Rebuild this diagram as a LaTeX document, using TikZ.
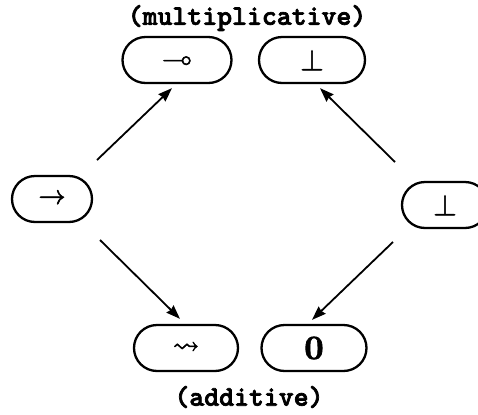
\documentclass[tikz,border=0pt]{standalone}
\usepackage{amssymb}
\usepackage{graphicx}
\usetikzlibrary{shapes.misc,arrows.meta}
% heavier type: fill and stroke the glyph outlines
\newcommand{\heavy}[2][0.35]{\special{pdf:literal direct 2 Tr #1 w}#2\special{pdf:literal direct 0 Tr}}
% a connective symbol, enlarged and slightly heavier
\newcommand{\csym}[2][1.35]{\heavy[0.2]{\scalebox{#1}{$#2$}}}
\begin{document}
\begin{tikzpicture}[x=0.5pt,y=-0.5pt,
  conn/.style={rounded rectangle,draw,line width=1.15pt,minimum height=23pt,inner sep=0pt},
  lbl/.style={font=\fontsize{14.2}{16}\selectfont\ttfamily\bfseries,inner sep=0pt},
  arr/.style={line width=0.9pt,-{Stealth[length=7pt,width=5pt,inset=0.6pt]}}]
  \useasboundingbox (0,0) rectangle (478,414);
  % multiplicative connectives
  \node[conn,minimum width=54.5pt] (mimp) at (177,60) {\csym{\multimap}};
  \node[conn,minimum width=53pt] (mbot) at (312,60) {\csym[1.5]{\bot}};
  % additive connectives
  \node[conn,minimum width=52pt] (aimp) at (186,348) {\csym[1.3]{\leadsto}};
  \node[conn,minimum width=52.5pt] (azero) at (314,348) {\csym[1.7]{\mathbf{0}}};
  % undecided connectives
  \node[conn,minimum width=40pt] (imp) at (52,199) {\csym{\rightarrow}};
  \node[conn,minimum width=43pt] (bot) at (445,205) {\csym[1.5]{\bot}};
  % group labels
  \node[lbl] (mult) at (247,18) {\heavy{(multiplicative)}};
  \node[lbl] (add) at (249,397) {\heavy{(additive)}};
  % refinements
  \coordinate (s1) at (97,160);
  \coordinate (s2) at (100,240);
  \coordinate (s3) at (395,162);
  \coordinate (s4) at (393,242);
  \draw[arr] (s1) -- ([shift={(-5,4)}]mimp.south);
  \draw[arr] (s2) -- ([shift={(-6,-5)}]aimp.north);
  \draw[arr] (s3) -- ([shift={(8,4)}]mbot.south);
  \draw[arr] (s4) -- ([shift={(-2,-4)}]azero.north);
\end{tikzpicture}
\end{document}
